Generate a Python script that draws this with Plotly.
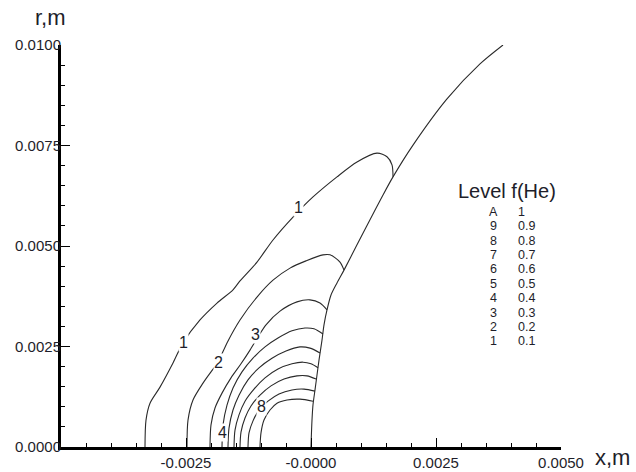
import plotly.graph_objects as go

# ---- data (metres) ----
edge_x = [0.0, 0.00002, 0.00004, 0.00008, 0.00012, 0.00016, 0.00022, 0.00026, 0.00032, 0.00040,
          0.00052, 0.00066, 0.00092, 0.00118, 0.00144, 0.00164, 0.00204, 0.00272, 0.00338, 0.00384]
edge_y = [0.0, 0.00067, 0.00105, 0.00142, 0.00179, 0.00216, 0.00266, 0.00304, 0.00341, 0.00378,
          0.00408, 0.00440, 0.00503, 0.00565, 0.00627, 0.00672, 0.00751, 0.00866, 0.00953, 0.01000]

c1_x = [-0.00332, -0.00330, -0.00322, -0.00302, -0.00276, -0.00256, -0.00222, -0.00188, -0.00156, -0.00142,
        -0.00108, -0.00076, -0.00036, 0.00004, 0.00052, 0.00092, 0.00132, 0.00152, 0.00162, 0.00164]
c1_y = [0.0, 0.00067, 0.00109, 0.00149, 0.00209, 0.00259, 0.00316, 0.00358, 0.00391, 0.00413,
        0.00460, 0.00515, 0.00572, 0.00622, 0.00672, 0.00709, 0.00731, 0.00722, 0.00702, 0.00672]

c2_x = [-0.00248, -0.00246, -0.00236, -0.00216, -0.00200, -0.00186, -0.00168, -0.00142, -0.00108, -0.00076,
        -0.00042, -0.00010, 0.00024, 0.00038, 0.00058, 0.00066]
c2_y = [0.0, 0.00067, 0.00117, 0.00159, 0.00187, 0.00211, 0.00259, 0.00316, 0.00373, 0.00415,
        0.00445, 0.00463, 0.00478, 0.00478, 0.00460, 0.00440]

c3_x = [-0.00202, -0.00200, -0.00192, -0.00178, -0.00160, -0.00140, -0.00122, -0.00106, -0.00090, -0.00062,
        -0.00028, -0.00002, 0.00018, 0.00032]
c3_y = [0.0, 0.00055, 0.00097, 0.00134, 0.00172, 0.00207, 0.00241, 0.00274, 0.00304, 0.00338,
        0.00361, 0.00366, 0.00358, 0.00341]

c4_x = [-0.00178, -0.00176, -0.00168, -0.00156, -0.00138, -0.00116, -0.00092, -0.00066, -0.00038, -0.00012, 0.00006, 0.00024]
c4_y = [0.0, 0.00055, 0.00104, 0.00147, 0.00187, 0.00221, 0.00249, 0.00271, 0.00289, 0.00296, 0.00294, 0.00281]

c5_x = [-0.00166, -0.00164, -0.00156, -0.00144, -0.00126, -0.00104, -0.00078, -0.00050, -0.00022, -0.00002, 0.00018]
c5_y = [0.0, 0.00047, 0.00092, 0.00129, 0.00167, 0.00197, 0.00221, 0.00239, 0.00249, 0.00246, 0.00234]

c6_x = [-0.00154, -0.00152, -0.00144, -0.00132, -0.00114, -0.00092, -0.00066, -0.00038, -0.00016, 0.00000, 0.00014]
c6_y = [0.0, 0.00042, 0.00080, 0.00114, 0.00144, 0.00172, 0.00194, 0.00207, 0.00211, 0.00207, 0.00197]

c7_x = [-0.00142, -0.00140, -0.00132, -0.00120, -0.00102, -0.00080, -0.00054, -0.00028, -0.00008, 0.00010]
c7_y = [0.0, 0.00037, 0.00072, 0.00102, 0.00129, 0.00152, 0.00169, 0.00177, 0.00177, 0.00169]

c8_x = [-0.00126, -0.00124, -0.00116, -0.00104, -0.00086, -0.00064, -0.00038, -0.00014, 0.00008]
c8_y = [0.0, 0.00035, 0.00065, 0.00092, 0.00114, 0.00132, 0.00142, 0.00144, 0.00139]

c9_x = [-0.00102, -0.00100, -0.00094, -0.00082, -0.00068, -0.00048, -0.00022, 0.00004]
c9_y = [0.0, 0.00035, 0.00067, 0.00092, 0.00109, 0.00117, 0.00119, 0.00114]

# contour labels on the lines
lab_text = ["1", "1", "2", "3", "4", "8"]
lab_x = [-0.00256, -0.00026, -0.00186, -0.00112, -0.00178, -0.00100]
lab_y = [0.00259, 0.00595, 0.00211, 0.00279, 0.00037, 0.00102]

# level table
level_names = ["A", "9", "8", "7", "6", "5", "4", "3", "2", "1"]
level_values = ["1", "0.9", "0.8", "0.7", "0.6", "0.5", "0.4", "0.3", "0.2", "0.1"]

x_tickvals = [-0.0025, 0.0, 0.0025, 0.005]
x_ticktext = ["-0.0025", "-0.0000", "0.0025", "0.0050"]
y_tickvals = [0.0, 0.0025, 0.005, 0.0075, 0.01]
y_ticktext = ["0.0000", "0.0025", "0.0050", "0.0075", "0.0100"]

FONT = "Liberation Sans, Arial, sans-serif"
LINE = "#2a2a2a"
TXT = "#1e1e2a"

fig = go.Figure()
for xs, ys in [(edge_x, edge_y), (c1_x, c1_y), (c2_x, c2_y), (c3_x, c3_y), (c4_x, c4_y),
               (c5_x, c5_y), (c6_x, c6_y), (c7_x, c7_y), (c8_x, c8_y), (c9_x, c9_y)]:
    fig.add_trace(go.Scatter(x=xs, y=ys, mode="lines",
                             line=dict(color=LINE, width=1.1, shape="spline", smoothing=0.8),
                             showlegend=False, hoverinfo="skip"))

for t, x, y in zip(lab_text, lab_x, lab_y):
    fig.add_annotation(x=x, y=y, text=t, showarrow=False, bgcolor="white", borderpad=0,
                       font=dict(family=FONT, size=16, color=TXT))

# level table annotations
fig.add_annotation(x=0.00392, y=0.00636, text="Level f(He)", showarrow=False,
                   font=dict(family=FONT, size=20, color=TXT))
row0 = 0.00585
row_step = 0.000358
for i, (n, v) in enumerate(zip(level_names, level_values)):
    yy = row0 - i * row_step
    fig.add_annotation(x=0.00364, y=yy, text=n, showarrow=False, xanchor="center", yanchor="middle",
                       font=dict(family=FONT, size=12.5, color=TXT))
    fig.add_annotation(x=0.00410, y=yy, text=v, showarrow=False, xanchor="left", yanchor="middle",
                       font=dict(family=FONT, size=12.5, color=TXT))

# axis titles
fig.add_annotation(xref="paper", yref="paper", x=-0.022, y=1.0, yshift=28, text="r,m",
                   showarrow=False, xanchor="center", yanchor="middle",
                   font=dict(family=FONT, size=22, color=TXT))
fig.add_annotation(xref="paper", yref="paper", x=1.0, xshift=32, y=0.0, yshift=-10, text="x,m",
                   showarrow=False, xanchor="left", yanchor="middle",
                   font=dict(family=FONT, size=22, color=TXT))

fig.update_layout(
    width=636, height=472,
    margin=dict(l=61, r=75, t=45, b=25, autoexpand=False),
    paper_bgcolor="white", plot_bgcolor="white",
    xaxis=dict(range=[-0.005, 0.005], showgrid=False, zeroline=False, automargin=False,
               showline=True, linewidth=3, linecolor="black", mirror=False,
               tickmode="array", tickvals=x_tickvals, ticktext=x_ticktext,
               ticks="inside", ticklen=9, tickwidth=1, tickcolor="black",
               minor=dict(tickmode="linear", tick0=0, dtick=0.0005, ticks="inside",
                          ticklen=4, tickwidth=1, tickcolor="black"),
               tickfont=dict(family=FONT, size=15, color=TXT),
               ticklabelstandoff=0),
    yaxis=dict(range=[0, 0.01], showgrid=False, zeroline=False, automargin=False,
               showline=True, linewidth=3, linecolor="black", mirror=False,
               tickmode="array", tickvals=y_tickvals, ticktext=y_ticktext,
               ticks="inside", ticklen=9, tickwidth=1, tickcolor="black",
               minor=dict(tickmode="linear", tick0=0, dtick=0.0005, ticks="inside",
                          ticklen=4, tickwidth=1, tickcolor="black"),
               tickfont=dict(family=FONT, size=15, color=TXT),
               ticklabelstandoff=-6),
)

fig.write_html("out.html")
